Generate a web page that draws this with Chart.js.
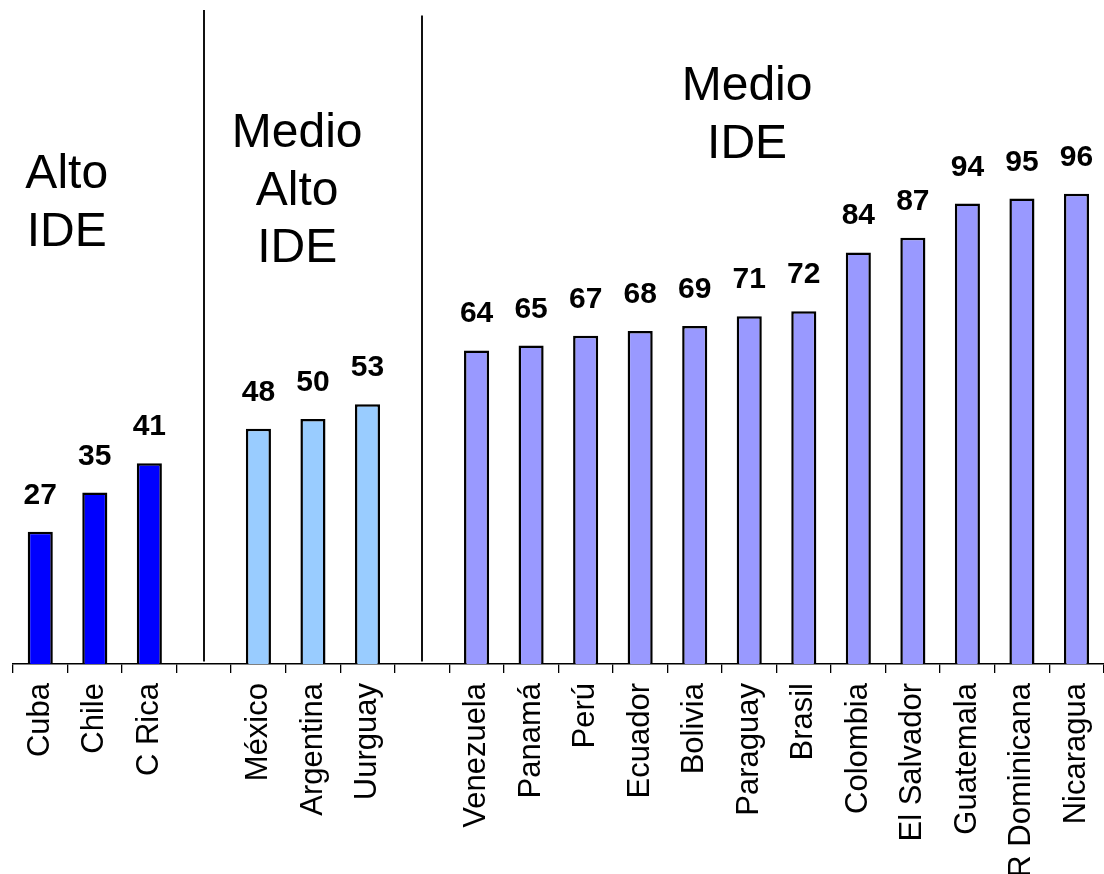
<!DOCTYPE html>
<html>
<head>
<meta charset="utf-8">
<script src="https://cdn.jsdelivr.net/npm/chart.js@4/dist/chart.umd.min.js"></script>
<style>
  html, body { margin: 0; padding: 0; background: #fff; overflow: hidden; }
  #wrap { width: 1104px; height: 874px; overflow: hidden; }
  canvas { display: block; }
</style>
</head>
<body>
<div id="wrap"><canvas id="c" width="1124" height="874"></canvas></div>
<script>
// ---- data ----
const categories = ['Cuba', 'Chile', 'C Rica', '', 'México', 'Argentina', 'Uurguay', '',
  'Venezuela', 'Panamá', 'Perú', 'Ecuador', 'Bolivia', 'Paraguay', 'Brasil', 'Colombia',
  'El Salvador', 'Guatemala', 'R Dominicana', 'Nicaragua'];
const values = [27, 35, 41, null, 48, 50, 53, null,
  64, 65, 67, 68, 69, 71, 72, 84, 87, 94, 95, 96];
const groups = ['alto', 'alto', 'alto', null, 'medioAlto', 'medioAlto', 'medioAlto', null,
  'medio', 'medio', 'medio', 'medio', 'medio', 'medio', 'medio', 'medio',
  'medio', 'medio', 'medio', 'medio'];
const groupTitles = [['Alto', 'IDE'], ['Medio', 'Alto', 'IDE'], ['Medio', 'IDE']];
const dividerIndices = [3, 7];

// ---- styles ----
const groupColors = { alto: '#0000FF', medioAlto: '#99CCFF', medio: '#9999FF' };
const titlePlacement = [
  { idx: 0.485, baseline: 188 },
  { idx: 4.71, baseline: 147 },
  { idx: 12.96, baseline: 100 }
];
const dividerTops = [133.5, 132.4];

const overlay = {
  id: 'overlay',
  afterDatasetsDraw(chart) {
    const ctx = chart.ctx;
    const xs = chart.scales.x, ys = chart.scales.y;
    const meta = chart.getDatasetMeta(0);
    ctx.save();
    ctx.fillStyle = '#000';
    ctx.font = 'bold 30px "Liberation Sans", Arial, sans-serif';
    ctx.textAlign = 'center';
    ctx.textBaseline = 'alphabetic';
    meta.data.forEach((bar, i) => {
      const v = values[i];
      if (v === null || v === undefined) return;
      ctx.fillText(String(v), bar.x, bar.y - 28);
    });
    ctx.strokeStyle = '#111';
    ctx.lineWidth = 2;
    dividerIndices.forEach((idx, k) => {
      const x = Math.round(xs.getPixelForValue(idx));
      ctx.beginPath();
      ctx.moveTo(x, ys.getPixelForValue(dividerTops[k]));
      ctx.lineTo(x, ys.getPixelForValue(0.5));
      ctx.stroke();
    });
    ctx.font = '48px "Liberation Sans", Arial, sans-serif';
    ctx.textAlign = 'center';
    groupTitles.forEach((lines, g) => {
      const p = titlePlacement[g];
      const x = xs.getPixelForValue(p.idx);
      lines.forEach((t, j) => ctx.fillText(t, x, p.baseline + j * 57.5));
    });
    ctx.restore();
  }
};

new Chart(document.getElementById('c'), {
  type: 'bar',
  data: {
    labels: categories,
    datasets: [{
      data: values,
      backgroundColor: groups.map(g => g ? groupColors[g] : 'rgba(0,0,0,0)'),
      borderColor: '#000',
      borderWidth: 2.5,
      barPercentage: 0.46,
      categoryPercentage: 1.0
    }]
  },
  options: {
    responsive: false,
    animation: false,
    devicePixelRatio: 1,
    layout: { padding: { left: 13, right: 13, top: 10, bottom: 0 } },
    plugins: { legend: { display: false }, tooltip: { enabled: false } },
    scales: {
      y: { display: false, min: 0, max: 133.5 },
      x: {
        offset: true,
        grid: { display: true, drawOnChartArea: false, drawTicks: true, tickLength: 9, color: '#000', lineWidth: 1.3, offset: true },
        border: { display: true, color: '#000', width: 1.5 },
        ticks: {
          autoSkip: false, minRotation: 90, maxRotation: 90, padding: 10,
          color: '#000',
          font: { family: '"Liberation Sans", Arial, sans-serif', size: 31 }
        },
        afterFit(scale) { scale.height = 210; }
      }
    }
  },
  plugins: [overlay]
});
</script>
</body>
</html>
